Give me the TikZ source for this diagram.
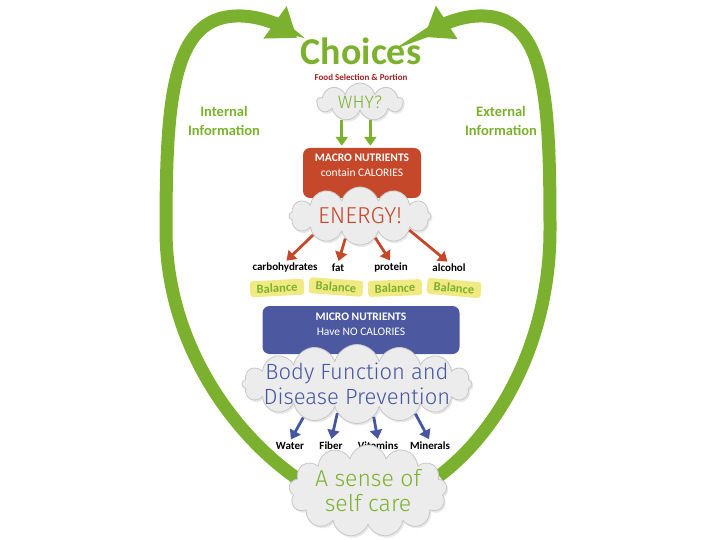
\documentclass[tikz,border=0pt]{standalone}
\usepackage{fontspec}
\setmainfont{Carlito}
\newfontfamily\handfont{Fira Sans Light}
\usetikzlibrary{positioning, arrows.meta, shapes.symbols, backgrounds, shadows, calc}

\definecolor{leafgreen}{RGB}{123,177,46}
\definecolor{wine}{RGB}{158,31,31}
\definecolor{brick}{RGB}{198,72,42}
\definecolor{indigo}{RGB}{76,89,161}
\definecolor{inkblue}{RGB}{70,86,160}
\definecolor{lemon}{RGB}{241,233,130}
\definecolor{mist}{RGB}{236,236,236}

\tikzset{
  puff/.style={cloud, cloud puffs=#1, cloud ignores aspect, fill=mist, draw=black!22,
    line width=0.8pt, inner sep=0pt,
    drop shadow={opacity=0.18, shadow xshift=1.5pt, shadow yshift=-2pt}},
  handtext/.style={align=center, inner sep=0pt, font=\handfont\fontsize{#1}{25}\selectfont},
  sidetext/.style={text=leafgreen, align=center, font=\bfseries\fontsize{14.5}{18.5}\selectfont},
  foodlabel/.style={font=\bfseries\fontsize{11}{12}\selectfont, inner sep=1pt},
  balancetag/.style={fill=lemon, rounded corners=3pt, text=leafgreen, inner sep=1pt,
    minimum width=54pt, minimum height=16pt, font=\bfseries\fontsize{12.5}{13}\selectfont},
  nutribox/.style={rounded corners=7pt},
  boxtext/.style={text=white, align=center, inner sep=0pt, font=\fontsize{11.5}{14.5}\selectfont},
  bigarrow/.style={leafgreen, line width=13pt, -{Triangle[length=27pt, width=38pt]}},
  smallarrow/.style={line width=2.8pt, -{Triangle[length=9pt, width=12pt]}, shorten >=2pt}
}

\begin{document}
\begin{tikzpicture}[x=1pt, y=-1pt]
    \useasboundingbox (0,0) rectangle (720,540);

    % --- heading ---
    \node[text=leafgreen, inner sep=0pt, font=\bfseries\fontsize{38}{39}\selectfont] (choices) at (361,51) {Choices};
    \node[text=wine, inner sep=0pt, font=\bfseries\fontsize{9}{10}\selectfont] (foodsel) at (361,77) {Food Selection \& Portion};

    \node[sidetext] (internal) at (224,121) {Internal\\Information};
    \node[sidetext] (external) at (501,121) {External\\Information};

    % --- why? ---
    \node[puff=9, minimum width=86pt, minimum height=38pt] (why) at (360,102) {};
    \node[handtext=18, text=leafgreen] (whytxt) at (why) {WHY?};

    % --- macro nutrients ---
    \node[nutribox, fill=brick, minimum width=118pt, minimum height=50pt] (macro) at (362,173) {};
    \node[boxtext, below=6pt of macro.north] (macrotxt) {\bfseries MACRO NUTRIENTS\\contain CALORIES};
    \node[puff=12, minimum width=142pt, minimum height=58pt] (energy) at (360,216) {};
    \node[handtext=23, text=brick] (energytxt) at (energy) {ENERGY!};

    \draw[smallarrow, leafgreen] (why.224) -- (why.224 |- macro.north);
    \draw[smallarrow, leafgreen] (why.300) -- (why.300 |- macro.north);

    \node[foodlabel] (carb) at (285,268) {carbohydrates};
    \node[foodlabel] (fat) at (338,268) {fat};
    \node[foodlabel] (protein) at (391,268) {protein};
    \node[foodlabel] (alcohol) at (449,268) {alcohol};

    \draw[smallarrow, brick] (energy.202) -- (carb.north);
    \draw[smallarrow, brick] (energy.237) -- (fat.north);
    \draw[smallarrow, brick] (energy.305) -- (protein.north);
    \draw[smallarrow, brick] (energy.344) -- (alcohol.north);

    % balance tags under each macro nutrient
    \node[balancetag, rotate=3] (balA) at (277,288) {Balance};
    \node[balancetag, rotate=-4] (balB) at (336,287) {Balance};
    \node[balancetag, rotate=2] (balC) at (395,288) {Balance};
    \node[balancetag, rotate=-5] (balD) at (454,288) {Balance};

    % --- micro nutrients ---
    \node[nutribox, fill=indigo, minimum width=197pt, minimum height=48pt] (micro) at (361,330) {};
    \node[boxtext, below=7pt of micro.north] (microtxt) {\bfseries MICRO NUTRIENTS\\Have NO CALORIES};
    \node[puff=16, minimum width=230pt, minimum height=79pt] (body) at (357,384) {};
    \node[handtext=22, text=inkblue] (bodytxt) at (body) {Body Function and\\Disease Prevention};

    \node[foodlabel] (water) at (290,446) {Water};
    \node[foodlabel] (fiber) at (331,446) {Fiber};
    \node[foodlabel] (vitamins) at (378,446) {Vitamins};
    \node[foodlabel] (minerals) at (430,446) {Minerals};

    \draw[smallarrow, inkblue] (body.212) -- (water.north);
    \draw[smallarrow, inkblue] (body.236) -- (fiber.north);
    \draw[smallarrow, inkblue] (body.297) -- (vitamins.north);
    \draw[smallarrow, inkblue] (body.333) -- (minerals.north);

    % --- self care ---
    \node[puff=13, minimum width=158pt, minimum height=92pt] (selfcare) at (368,491) {};
    \node[handtext=23, text=leafgreen] (selfcaretxt) at (selfcare) {A sense of\\self care};

    % --- feedback loops back to the choices ---
    \coordinate (LeftTip) at (297,38);
    \coordinate (RightTip) at (424,37);
    \begin{scope}[on background layer]
        \draw[bigarrow] (selfcare.170) .. controls (230,432) and (166,340) .. (166,230)
            .. controls (166,100) and (172,18) .. (236,16)
            .. controls (262,15) and (283,28) .. (LeftTip);
        \draw[bigarrow] (selfcare.12) .. controls (500,430) and (550,340) .. (550,230)
            .. controls (550,100) and (546,18) .. (484,16)
            .. controls (458,15) and (438,28) .. (RightTip);
    \end{scope}

\end{tikzpicture}
\end{document}
